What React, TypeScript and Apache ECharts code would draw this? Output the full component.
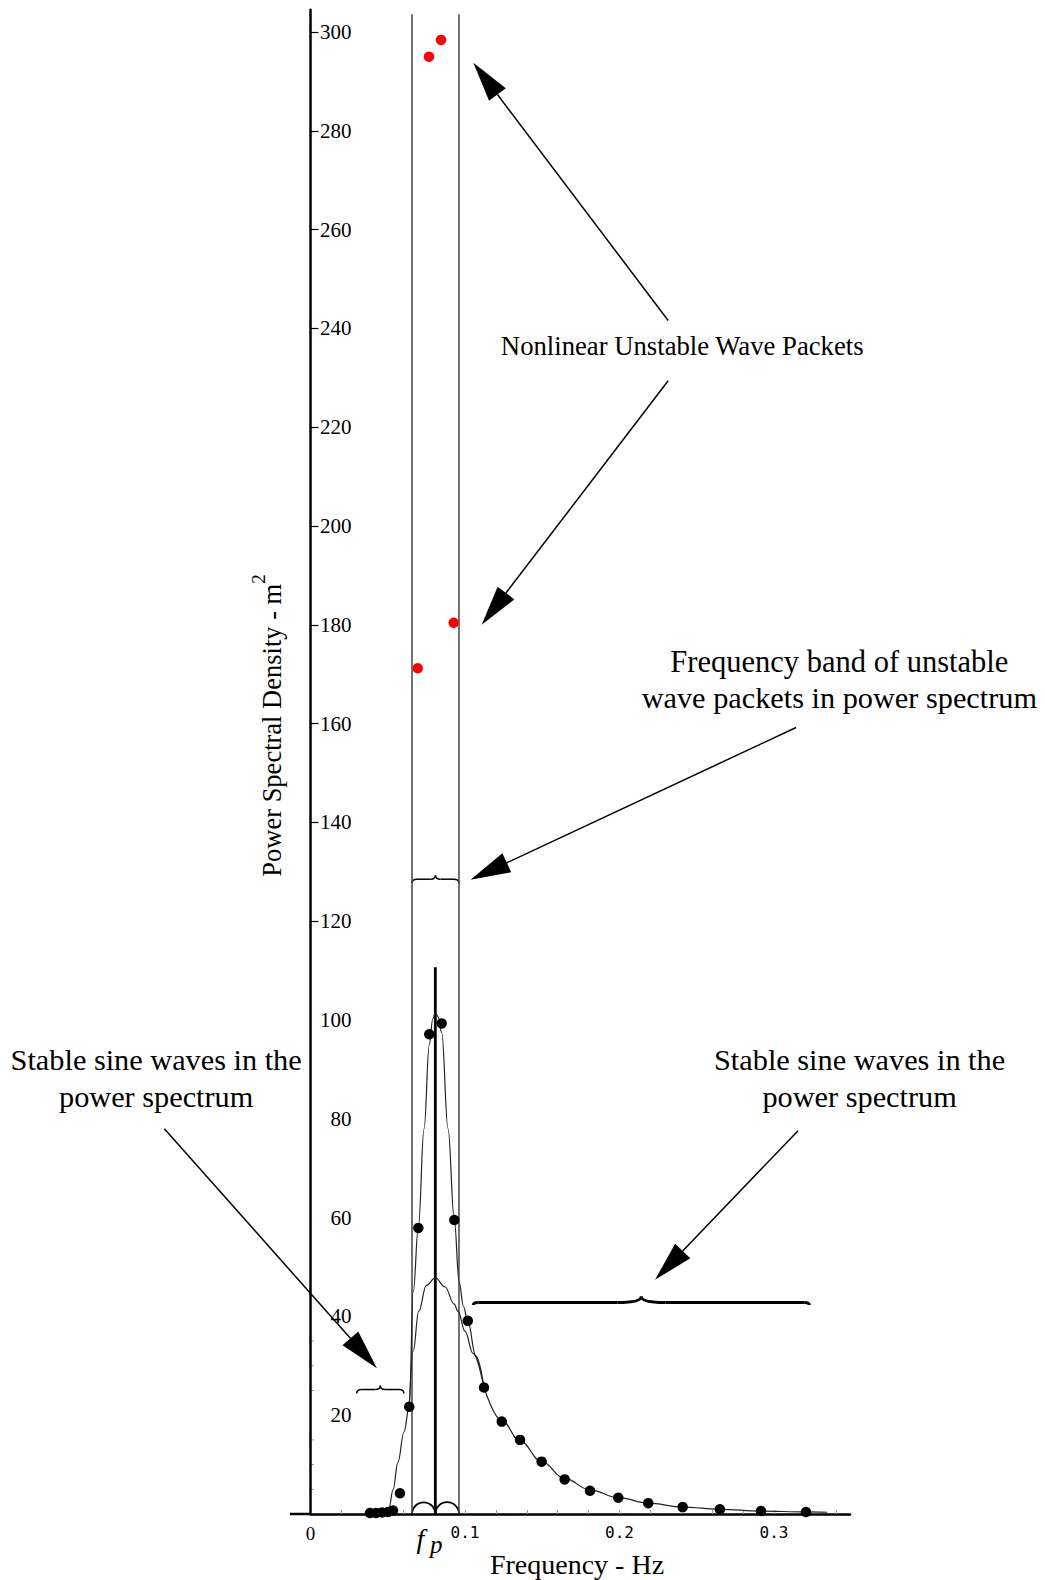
import React, { useEffect, useRef } from "react";
import * as echarts from "echarts";

// ---------- data ----------
const stableFreq = [0.0385, 0.0424, 0.0463, 0.0502, 0.0534, 0.0579, 0.0639, 0.0698, 0.0769, 0.0849, 0.0931, 0.1018, 0.1123, 0.1238, 0.1356, 0.1496, 0.1645, 0.1809, 0.1992, 0.2186, 0.2409, 0.265, 0.2916, 0.3207];
const stablePsd = [0.2, 0.2, 0.3, 0.4, 0.7, 4.2, 21.7, 57.9, 97.1, 99.3, 59.5, 39.1, 25.6, 18.7, 15.0, 10.6, 7.0, 4.7, 3.3, 2.2, 1.4, 0.95, 0.6, 0.4];

const unstableFreq = [0.0694, 0.0767, 0.0845, 0.0927];
const unstablePsd = [171.2, 295.0, 298.4, 180.4];

// narrow (peaked) spectrum curve incl. the shared left flank
const narrowFreq = [0.0437, 0.0482, 0.0508, 0.0534, 0.0566, 0.0605, 0.0639, 0.0665, 0.0698, 0.0735, 0.0769, 0.0792, 0.0808, 0.0825, 0.0849, 0.089, 0.0931, 0.0962, 0.099, 0.1018, 0.107, 0.1123];
const narrowPsd = [0, 0.3, 1.2, 4.9, 10.5, 16.6, 21.7, 45, 58, 78, 95, 100.3, 101.5, 100.7, 97.5, 78, 59.5, 47, 42, 39, 32, 25.6];

// wide (smoothed) spectrum curve
const wideFreq = [0.0639, 0.0665, 0.07, 0.075, 0.0808, 0.087, 0.093, 0.0955, 0.1, 0.1052, 0.1123];
const widePsd = [21.7, 33, 41, 46.3, 47.8, 46, 42.5, 41, 37, 32.5, 25.6];

// common high-frequency tail
const tailFreq = [0.1123, 0.1238, 0.1356, 0.1496, 0.1645, 0.1809, 0.1992, 0.2186, 0.2409, 0.265, 0.2916, 0.3207, 0.3345];
const tailPsd = [25.6, 18.9, 14.8, 10.6, 7.2, 4.9, 3.3, 2.2, 1.4, 0.95, 0.6, 0.42, 0.35];

const bandLowHz = 0.0657;
const bandHighHz = 0.0961;
const peakHz = 0.0808;
const bandLineTop = 303.6;
const peakLineTop = 110.7;

const yLabelValues = [20, 40, 60, 80, 100, 120, 140, 160, 180, 200, 220, 240, 260, 280, 300];
const yDashValues = [120, 140, 160, 180, 200, 220, 240, 260, 280, 300];
const yMinorTicks = [5, 10, 15, 25, 30, 35];
const xLabelValues = [0, 0.1, 0.2, 0.3];
const xMinorTicks = [0.02, 0.04, 0.06, 0.08, 0.1, 0.12, 0.14, 0.16, 0.18, 0.2, 0.22, 0.24, 0.26, 0.28, 0.3, 0.32, 0.34];

const X_MAX = 0.3492;
const X_LEFT_EXT = -0.0133;
const Y_MAX = 304.5;

const SERIF = '"Liberation Serif", "Times New Roman", serif';
const MONO = '"DejaVu Sans Mono", "Liberation Mono", monospace';

const zip = (a: number[], b: number[]) => a.map((v, i) => [v, b[i]]);

// ---------- annotation layout (data coordinates) ----------
const arrows = [
  { from: [0.2315, 241.6], to: [0.1054, 293.8] },
  { from: [0.2315, 229.4], to: [0.1108, 180.0] },
  { from: [0.3143, 159.2], to: [0.1036, 128.4] },
  { from: [-0.0946, 78.0], to: [0.043, 29.5] },
  { from: [0.3156, 77.6], to: [0.223, 47.4] },
];

const texts = [
  { t: "Nonlinear Unstable Wave Packets", at: [0.2406, 236.5], size: 26.7 },
  { t: "Frequency band of unstable", at: [0.3423, 172.5], size: 30.5 },
  { t: "wave packets in power spectrum", at: [0.3423, 165.1], size: 30.3 },
  { t: "Stable sine waves in the", at: [-0.0999, 91.9], size: 30.3 },
  { t: "power spectrum", at: [-0.0999, 84.5], size: 30.3 },
  { t: "Stable sine waves in the", at: [0.3554, 91.9], size: 30.3 },
  { t: "power spectrum", at: [0.3554, 84.5], size: 30.3 },
];

const braces = [
  { x0: bandLowHz, x1: bandHighHz, y: 128.5, hEnd: 4, hTip: 4, rEnd: 5, rTip: 5, w: 1.5 },
  { x0: 0.0299, x1: 0.0605, y: 25.2, hEnd: 4, hTip: 4, rEnd: 5, rTip: 5, w: 1.5 },
  { x0: 0.1054, x1: 0.3228, y: 42.8, hEnd: 2.5, hTip: 6, rEnd: 5, rTip: 24, w: 3 },
];

function arrowEls(tail: number[], tip: number[]) {
  const headLen = 40, headHalf = 10.5;
  const dx = tip[0] - tail[0], dy = tip[1] - tail[1];
  const L = Math.hypot(dx, dy);
  const ux = dx / L, uy = dy / L;
  const bx = tip[0] - ux * headLen, by = tip[1] - uy * headLen;
  const px = -uy, py = ux;
  return [
    { type: "line", shape: { x1: tail[0], y1: tail[1], x2: bx, y2: by }, style: { stroke: "#000", lineWidth: 1.5 } },
    {
      type: "polygon",
      shape: { points: [[tip[0], tip[1]], [bx + px * headHalf, by + py * headHalf], [bx - px * headHalf, by - py * headHalf]] },
      style: { fill: "#000" },
    },
  ];
}

function braceEls(x0: number, x1: number, y: number, hEnd: number, hTip: number, rEnd: number, rTip: number, w: number) {
  const xm = (x0 + x1) / 2;
  const st = { stroke: "#000", lineWidth: w, fill: null };
  return [
    { type: "bezierCurve", shape: { x1: x0, y1: y + hEnd, cpx1: x0, cpy1: y, x2: x0 + rEnd, y2: y }, style: st },
    { type: "line", shape: { x1: x0 + rEnd, y1: y, x2: xm - rTip, y2: y }, style: st },
    { type: "bezierCurve", shape: { x1: xm - rTip, y1: y, cpx1: xm, cpy1: y, x2: xm, y2: y - hTip }, style: st },
    { type: "bezierCurve", shape: { x1: xm, y1: y - hTip, cpx1: xm, cpy1: y, x2: xm + rTip, y2: y }, style: st },
    { type: "line", shape: { x1: xm + rTip, y1: y, x2: x1 - rEnd, y2: y }, style: st },
    { type: "bezierCurve", shape: { x1: x1 - rEnd, y1: y, cpx1: x1, cpy1: y, x2: x1, y2: y + hEnd }, style: st },
  ];
}

function textEl(t: string, x: number, y: number, size: number, extra: any = {}) {
  return {
    type: "text",
    x,
    y,
    style: {
      text: t,
      fontFamily: SERIF,
      fontSize: size,
      fill: "#000",
      align: "center",
      textAlign: "center",
      verticalAlign: "middle",
      textVerticalAlign: "middle",
      ...extra,
    },
  };
}

function buildGraphics(chart: any) {
  const P = (x: number, y: number) => chart.convertToPixel({ gridIndex: 0 }, [x, y]) as number[];
  const els: any[] = [];

  // leftward extension of the frequency axis
  const a0 = P(X_LEFT_EXT, 0), a1 = P(0, 0);
  els.push({ type: "line", shape: { x1: a0[0], y1: a0[1], x2: a1[0], y2: a1[1] }, style: { stroke: "#000", lineWidth: 2.5 } });

  // small minor ticks near the bottom of the PSD axis
  yMinorTicks.forEach((v) => {
    const p = P(0, v);
    els.push({ type: "line", shape: { x1: p[0], y1: p[1], x2: p[0] + 3.5, y2: p[1] }, style: { stroke: "#999", lineWidth: 1 } });
  });

  // arcs at the base of the band
  const pL = P(bandLowHz, 0), pM = P(peakHz, 0), pR = P(bandHighHz, 0);
  [[pL, pM], [pM, pR]].forEach(([a, b]) => {
    const r = (b[0] - a[0]) / 2;
    els.push({
      type: "arc",
      shape: { cx: (a[0] + b[0]) / 2, cy: a[1], r, startAngle: Math.PI, endAngle: 2 * Math.PI },
      style: { stroke: "#000", lineWidth: 1.8, fill: null },
    });
  });

  braces.forEach((b) => {
    const p0 = P(b.x0, b.y), p1 = P(b.x1, b.y);
    els.push(...braceEls(p0[0], p1[0], p0[1], b.hEnd, b.hTip, b.rEnd, b.rTip, b.w));
  });

  arrows.forEach((a) => {
    els.push(...arrowEls(P(a.from[0], a.from[1]), P(a.to[0], a.to[1])));
  });

  texts.forEach((t) => {
    const p = P(t.at[0], t.at[1]);
    els.push(textEl(t.t, p[0], p[1], t.size));
  });

  // f_p label under the peak line
  const pf = P(peakHz, 0);
  els.push(textEl("f", pf[0] - 15, pf[1] + 24, 28, { fontStyle: "italic" }));
  els.push(textEl("p", pf[0] + 1, pf[1] + 30, 25, { fontStyle: "italic" }));

  // axis names
  els.push(textEl("Frequency - Hz", 577, 1564, 28));
  els.push({
    type: "text",
    x: 267,
    y: 725.5,
    rotation: Math.PI / 2,
    style: {
      text: "{a|Power Spectral Density - m}{s|2}",
      fontFamily: SERIF,
      fontSize: 26.5,
      fill: "#000",
      align: "center",
      textAlign: "center",
      verticalAlign: "middle",
      textVerticalAlign: "middle",
      rich: {
        a: { fontFamily: SERIF, fontSize: 26.5, lineHeight: 36, verticalAlign: "bottom", fill: "#000" },
        s: { fontFamily: SERIF, fontSize: 19, lineHeight: 20, verticalAlign: "top", fill: "#000" },
      },
    },
  });

  return els;
}

const lineSeries = (name: string, xs: number[], ys: number[], extra: any = {}) => ({
  name,
  type: "line",
  data: zip(xs, ys),
  symbol: "none",
  smooth: 0.4,
  smoothMonotone: "x",
  silent: true,
  lineStyle: { color: "#222", width: 1.2 },
  z: 3,
  ...extra,
});

const option: any = {
  animation: false,
  backgroundColor: "#fff",
  grid: { left: 310.5, right: 195, top: 9.77, bottom: 66, containLabel: false },
  xAxis: {
    type: "value",
    min: 0,
    max: X_MAX,
    splitLine: { show: false },
    axisLine: { onZero: false, lineStyle: { color: "#000", width: 2.5 } },
    axisTick: { inside: true, length: 4, customValues: xMinorTicks, lineStyle: { color: "#999", width: 1 } },
    axisLabel: {
      customValues: xLabelValues,
      margin: 10,
      formatter: (v: number) => (v === 0 ? "{z|0}" : "{m|" + v.toFixed(1) + "}"),
      rich: {
        z: { fontFamily: SERIF, fontSize: 19, color: "#000" },
        m: { fontFamily: MONO, fontSize: 16, color: "#000" },
      },
    },
  },
  yAxis: {
    type: "value",
    min: 0,
    max: Y_MAX,
    splitLine: { show: false },
    axisLine: { onZero: false, lineStyle: { color: "#000", width: 2.5 } },
    axisTick: { inside: true, length: 8, customValues: yDashValues, lineStyle: { color: "#000", width: 1.2 } },
    axisLabel: {
      inside: true,
      align: "right",
      margin: 41,
      customValues: yLabelValues,
      fontFamily: SERIF,
      fontSize: 21,
      color: "#000",
    },
  },
  series: [
    lineSeries("bandLow", [bandLowHz, bandLowHz], [0, bandLineTop], { smooth: false, lineStyle: { color: "#444", width: 1.5 }, z: 2 }),
    lineSeries("bandHigh", [bandHighHz, bandHighHz], [0, bandLineTop], { smooth: false, lineStyle: { color: "#444", width: 1.5 }, z: 2 }),
    lineSeries("peak", [peakHz, peakHz], [0, peakLineTop], { smooth: false, lineStyle: { color: "#000", width: 2.8 }, z: 2 }),
    lineSeries("narrow", narrowFreq, narrowPsd),
    lineSeries("wide", wideFreq, widePsd),
    lineSeries("tail", tailFreq, tailPsd),
    {
      name: "stable",
      type: "scatter",
      data: zip(stableFreq, stablePsd),
      symbol: "circle",
      symbolSize: 10.5,
      itemStyle: { color: "#000", opacity: 1 },
      silent: true,
      z: 5,
    },
    {
      name: "unstable",
      type: "scatter",
      data: zip(unstableFreq, unstablePsd),
      symbol: "circle",
      symbolSize: 10.5,
      itemStyle: { color: "#f00", opacity: 1 },
      silent: true,
      z: 5,
    },
  ],
};

export default function App() {
  const ref = useRef<HTMLDivElement>(null);
  useEffect(() => {
    if (!ref.current) return;
    const chart = echarts.init(ref.current, null, { renderer: "svg" });
    chart.setOption(option);
    chart.setOption({ graphic: { elements: buildGraphics(chart) } });
    return () => chart.dispose();
  }, []);
  return (
    <div
      ref={ref}
      style={{ position: "absolute", left: 0, top: 0, width: 1045, height: 1580, background: "#fff" }}
    />
  );
}
